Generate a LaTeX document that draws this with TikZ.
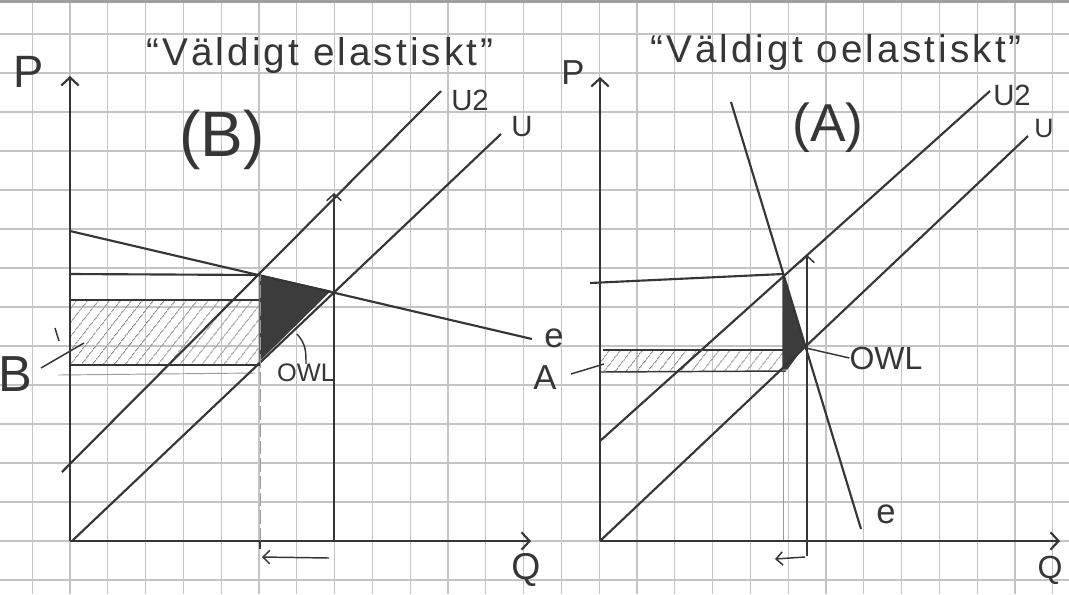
\documentclass[tikz,border=0pt]{standalone}
\usepackage{fontspec}
\setmainfont{Liberation Sans}
\usetikzlibrary{arrows.meta,patterns.meta}
\definecolor{ink}{HTML}{363636}
\definecolor{gridc}{HTML}{C4C4C4}
\definecolor{shade}{HTML}{3C3C3C}
\newcommand\fsz[1]{\fontsize{#1}{#1}\selectfont}
\begin{document}
\begin{tikzpicture}[x=0.75pt,y=-0.75pt,
  gridline/.style={gridc,line width=0.9pt},
  axis/.style={ink,line width=2.1pt,-{Straight Barb[length=6pt,width=13pt,line width=1.6pt]}},
  curve/.style={ink,line width=1.6pt},
  thinline/.style={ink,line width=1.1pt},
  faint/.style={gray!80,line width=0.7pt},
  uparrow/.style={ink,line width=1.1pt,-{Straight Barb[length=5pt,width=11pt,line width=1.1pt]}},
  smallarrow/.style={ink,line width=1.1pt,-{Straight Barb[length=5pt,width=10pt,line width=1.1pt]}},
  hatch/.style={pattern={Lines[angle=52,distance=6.5pt,line width=0.75pt]},pattern color=gray!90},
  dark/.style={fill=shade,draw=shade,line width=0.8pt},
  hand/.style={ink,inner sep=0pt},
  lbl/.style={ink,inner sep=0pt}]
\useasboundingbox (0,0) rectangle (1069,594);
\fill[white] (0,0) rectangle (1069,594);
% grid
\foreach \i in {-1,...,27} \draw[gridline] ({70+37.8*\i},0) -- ({70+37.8*\i},594);
\foreach \j in {-1,...,14} \draw[gridline] (0,{541-39*\j}) -- (1069,{541-39*\j});
\fill[gray!75] (0,0) rectangle (1069,2.5);

% ================= LEFT PANEL (B) =================
\coordinate (O1) at (70,541);
\coordinate (P1) at (70,76);
\coordinate (Q1) at (531,541);
\coordinate (Ua1) at (72,541);  \coordinate (Ub1) at (501,134);
\coordinate (Va1) at (62,472);  \coordinate (Vb1) at (441,91);
\coordinate (ea1) at (70,231);  \coordinate (eb1) at (532,339);
\coordinate (E21) at (260,275); % U2 x e
\coordinate (E11) at (334,292); % U x e
\coordinate (T1) at (334,193);  % on U2
\coordinate (D1) at (260,360);  % on U

% hatched rectangle
\fill[hatch] (71,300) rectangle (259,365);
\draw[thinline] (70,300) -- (259,300);
\draw[thinline] (70,365) -- (260,365);
\draw[faint] (58,375) -- (255,373);
% dark triangle
\filldraw[dark] (E21) -- (330,291) -- (D1) -- cycle;

% axes
\draw[axis] (O1) -- (P1);
\draw[axis] (O1) -- (Q1);
% lines
\draw[curve] (Ua1) -- (Ub1);
\draw[curve] (Va1) -- (Vb1);
\draw[curve] (ea1) -- (eb1);
\draw[curve] (70,274) -- (E21);
\draw[faint,dash pattern=on 10pt off 3pt] (260,541) -- (E21);
\draw[thinline] (260,541) -- (260,549);
\draw[uparrow] (334,541) -- (T1);
\draw[smallarrow] (329,558) -- (262,557);
% OWL pointer
\coordinate (owlA1) at (297,334);
\node[lbl,font=\fsz{19}] (owl1) at (306,373) {OWL};
\draw[thinline] (owlA1) .. controls (306,344) and (306,352) .. (owl1.north);
% B pointer
\node[hand,font=\fsz{38}] (B1) at (15,374) {B};
\coordinate (Bp1) at (84,343);
\draw[thinline] (41,368) -- (Bp1);
\draw[thinline] (55,328) -- (59,341);

% labels
\node[hand,font=\fsz{34}] (Plab1) at (29,72) {P};
\node[hand,font=\fsz{28}] (Qlab1) at (526,570) {Q};
\node[lbl,font=\fsz{22}] (U2lab1) at (470,100) {U2};
\node[lbl,font=\fsz{22}] (Ulab1) at (522,127) {U};
\node[lbl,font=\fsz{26}] (elab1) at (554,338) {e};
\node[hand,font=\fsz{29}\addfontfeatures{LetterSpace=8}] (title1) at (320,55) {“Väldigt elastiskt”};
\node[hand,font=\fsz{48}] (B1t) at (222,140) {(B)};

% ================= RIGHT PANEL (A) =================
\coordinate (O2) at (600,541);
\coordinate (P2) at (600,77);
\coordinate (Q2) at (1060,541);
\coordinate (Ua2) at (600,541);  \coordinate (Ub2) at (1028,136);
\coordinate (Va2) at (600,441);  \coordinate (Vb2) at (990,91);
\coordinate (ea2) at (731,102);  \coordinate (eb2) at (861,529);
\coordinate (E22) at (783,274);
\coordinate (E12) at (806,348);
\coordinate (T2) at (807,255);

\fill[hatch] (601,350) rectangle (784,371);
\draw[thinline] (603,350) -- (785,350);
\draw[thinline] (601,372) -- (786,371);
\draw[faint] (783,541) -- (783,372);
\filldraw[dark] (783,276) -- (804,346) -- (787,369) -- (783,369) -- cycle;

\draw[axis] (O2) -- (P2);
\draw[axis] (O2) -- (Q2);
\draw[curve] (Ua2) -- (Ub2);
\draw[curve] (Va2) -- (Vb2);
\draw[curve] (ea2) -- (eb2);
\draw[curve] (590,283) -- (E22);
\draw[uparrow] (807,541) -- (T2);
\draw[thinline] (807,541) -- (807,556);
\draw[smallarrow] (805,557) -- (775,559);
\node[lbl,font=\fsz{24}] (owl2) at (886,358) {OWL};
\draw[thinline] (E12) -- (owl2.west);
\node[hand,font=\fsz{26}] (A2) at (545,378) {A};
\coordinate (Ap2) at (604,364);
\draw[thinline] (571,374) -- (Ap2);

\node[hand,font=\fsz{26}] (Plab2) at (573,73) {P};
\node[hand,font=\fsz{24}] (Qlab2) at (1050,570) {Q};
\node[lbl,font=\fsz{22}] (U2lab2) at (1012,95) {U2};
\node[lbl,font=\fsz{20}] (Ulab2) at (1044,128) {U};
\node[lbl,font=\fsz{26}] (elab2) at (886,514) {e};
\node[hand,font=\fsz{29}\addfontfeatures{LetterSpace=8}] (title2) at (836,52) {“Väldigt oelastiskt”};
\node[hand,font=\fsz{40}] (A2t) at (828,128) {(A)};
\end{tikzpicture}
\end{document}
